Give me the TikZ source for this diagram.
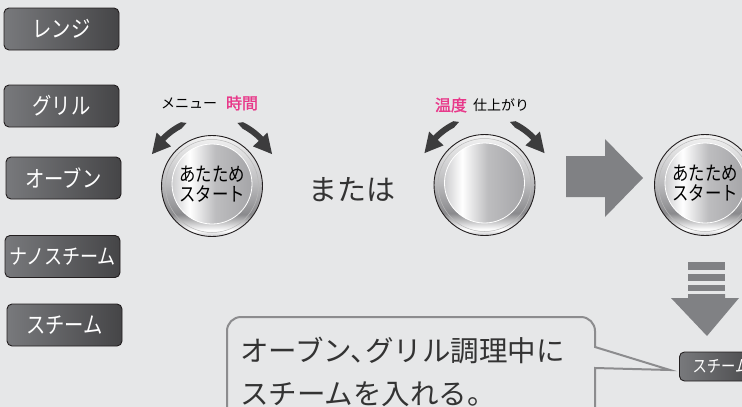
\documentclass[tikz,border=0pt]{standalone}
\usepackage{fontspec}
\newfontfamily\jp{Noto Sans CJK JP}
\newfontfamily\jpc[FakeStretch=0.84]{Noto Sans CJK JP}
\newfontfamily\jpb[FakeBold=1.5]{Noto Sans CJK JP}
\usetikzlibrary{calc}
\definecolor{bg}{HTML}{E6E7E8}
\definecolor{btnl}{HTML}{78797C}
\definecolor{btnr}{HTML}{454547}
\definecolor{btnline}{HTML}{231F20}
\definecolor{arrowgray}{HTML}{808184}
\definecolor{knobarr}{HTML}{3C3C3D}
\definecolor{pinkc}{HTML}{E8388A}
\definecolor{txt}{HTML}{333333}
\definecolor{calloutline}{HTML}{8C8C8E}
\definecolor{kdA}{HTML}{CDCDCF}
\definecolor{kdB}{HTML}{BDBDBF}
\definecolor{kdC}{HTML}{A5A5A8}
\definecolor{krA}{HTML}{C9C9CB}
\definecolor{krB}{HTML}{8A8A8D}
\definecolor{krC}{HTML}{BEBEC0}
\definecolor{krD}{HTML}{F3F3F3}
\pgfdeclarehorizontalshading{knobdisc}{100bp}{color(0bp)=(kdA); color(25bp)=(kdA); color(36bp)=(white); color(52bp)=(kdB); color(75bp)=(kdC); color(100bp)=(kdC)}
\pgfdeclareverticalshading{knobring}{100bp}{color(0bp)=(krA); color(25bp)=(krA); color(28bp)=(white); color(36bp)=(krB); color(52bp)=(krC); color(75bp)=(krD); color(100bp)=(krD)}
\tikzset{
  btn/.style={rounded corners=5pt, draw=btnline, line width=0.9pt, left color=btnl, right color=btnr,
    text=white, minimum width=115pt, minimum height=42pt, inner sep=0pt, font=\jpc\fontsize{23}{23}\selectfont},
  knobbase/.style={circle, minimum size=101pt, inner sep=0pt, draw=btnline, line width=0.9pt, shading=knobring},
  knobtxt/.style={align=center, inner sep=0pt, text=black, font=\jpc\fontsize{19.5}{20}\selectfont},
  lbl/.style={inner sep=0pt, text=black, font=\jp\fontsize{14}{14}\selectfont},
  lblpink/.style={inner sep=0pt, text=pinkc, font=\jpb\fontsize{16}{16}\selectfont},
  arr/.style={fill=knobarr},
  bigarrow/.style={fill=arrowgray},
  callout/.style={draw=calloutline, line width=2pt, fill=bg, line join=miter},
  ctext/.style={anchor=west, inner sep=0pt, text=txt, font=\jp\fontsize{28.5}{28.5}\selectfont}
}
\newcommand\knobdisc[1]{%
  \draw[gray!55, line width=0.5pt] (#1.center) circle[radius=46.5];
  \shade[shading=knobdisc, draw=white, line width=0.8pt] ($(#1.center)+(0,-2)$) circle[radius=40];}
\newcommand\knobarrows[1]{%
  \fill[arr] ($(#1.center)+(-112:68)$) -- ($(#1.center)+(-116:71)$) arc[start angle=-116,end angle=-136,radius=71]
    -- ($(#1.center)+(-136:77)$) -- ($(#1.center)+(-152:68)$) -- ($(#1.center)+(-136:57)$)
    -- ($(#1.center)+(-136:65)$) arc[start angle=-136,end angle=-118,radius=65] -- cycle;
  \fill[arr] ($(#1.center)+(-68:68)$) -- ($(#1.center)+(-64:71)$) arc[start angle=-64,end angle=-44,radius=71]
    -- ($(#1.center)+(-44:77)$) -- ($(#1.center)+(-28:68)$) -- ($(#1.center)+(-44:57)$)
    -- ($(#1.center)+(-44:65)$) arc[start angle=-44,end angle=-62,radius=65] -- cycle;}
\begin{document}
\begin{tikzpicture}[x=1pt,y=-1pt]
\fill[bg] (0,0) rectangle (742,407);
\useasboundingbox (0,0) rectangle (742,407);
\clip (0,0) rectangle (742,407);

% mode buttons
\node[btn] (b1) at (61.5,29) {レンジ};
\node[btn] (b2) at (61.5,106) {グリル};
\node[btn] (b3) at (63.5,178) {オーブン};
\node[btn, font=\jpc\fontsize{21.5}{21.5}\selectfont] (b4) at (62.5,256.5) {ナノスチーム};
\node[btn] (b5) at (64.5,325) {スチーム};

% knob 1
\node[knobbase] (k1) at (212,186) {};
\knobdisc{k1}
\knobarrows{k1}
\node[knobtxt] (t1) at (212,184) {あたため\\スタート};
\node[lbl] (l1) at (189,103) {メニュー};
\node[lblpink] (l2) at (242,103) {時間};

% or
\node[inner sep=0pt, text=txt, font=\jp\fontsize{29}{29}\selectfont] (or) at (352,190) {または};

% knob 2
\node[knobbase] (k2) at (484.5,185) {};
\knobdisc{k2}
\knobarrows{k2}
\node[lblpink] (l3) at (451,105) {温度};
\node[lbl] (l4) at (501,105) {仕上がり};

% big right arrow
\fill[bigarrow] (566,156) -- (605,156) -- (605,139) -- (643,178) -- (605,217) -- (605,197) -- (566,197) -- cycle;

% knob 3
\node[knobbase] (k3) at (705,185) {};
\knobdisc{k3}
\node[knobtxt] (t3) at (705,183) {あたため\\スタート};

% down arrow
\fill[bigarrow] (688,262) rectangle (725,270);
\fill[bigarrow] (688,273.5) rectangle (725,281);
\fill[bigarrow] (688,284.5) rectangle (725,291);
\fill[bigarrow] (688,294) -- (725,294) -- (725,298) -- (739,298) -- (707,336) -- (671,298) -- (688,298) -- cycle;

% small steam button
\node[btn, minimum width=83pt, minimum height=29pt, anchor=west, font=\jpc\fontsize{17}{17}\selectfont] (sb) at (679,366.5) {スチーム};

% callout
\coordinate (tip) at (670,370);
\draw[callout] (227,420) -- (227,331) arc[start angle=180,end angle=270,radius=14] -- (581,317)
  arc[start angle=270,end angle=360,radius=14] -- (595,347) -- (tip) -- (595,368) -- (595,420);
\node[ctext] (c1) at (240,351) {オーブン、\kern-0.5em グリル調理中に};
\node[ctext] (c2) at (240,394) {スチームを入れる。};
\end{tikzpicture}
\end{document}
